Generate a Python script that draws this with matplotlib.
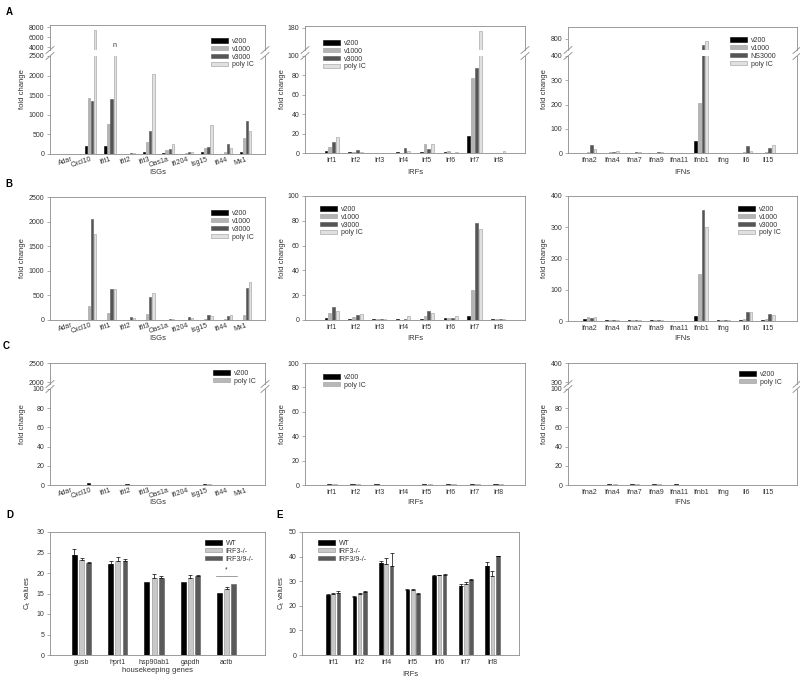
import numpy as np
import matplotlib.pyplot as plt
from matplotlib.lines import Line2D
from matplotlib.container import BarContainer

plt.rcParams['font.family'] = ['Liberation Sans', 'DejaVu Sans']
plt.rcParams['font.size'] = 5

W, H = 800, 684

isgs = ['Adar', 'Cxcl10', 'Ifit1', 'Ifit2', 'Ifit3', 'Oas1a', 'Ifi204', 'Isg15', 'Ifi44', 'Mx1']
irfs = ['Irf1', 'Irf2', 'Irf3', 'Irf4', 'Irf5', 'Irf6', 'Irf7', 'Irf8']
ifns = ['Ifna2', 'Ifna4', 'Ifna7', 'Ifna9', 'Ifna11', 'Ifnb1', 'Ifng', 'Il6', 'Il15']

# panel A
a_isg_v200 = [2, 200, 200, 5, 40, 20, 10, 50, 10, 60]
a_isg_v1000 = [5, 1420, 760, 10, 300, 110, 30, 160, 40, 410]
a_isg_v3000 = [8, 1360, 1400, 25, 580, 120, 60, 170, 260, 850]
a_isg_polyic = [3, 7500, 2600, 20, 2050, 250, 60, 730, 160, 590]

a_irf_v200 = [2, 1.5, 0.5, 1, 1.5, 1.5, 17.5, 0.5]
a_irf_v1000 = [6, 1.5, 0.5, 0.5, 9, 2, 77, 0.5]
a_irf_v3000 = [11, 3.5, 0.5, 5, 4, 0.5, 88, 0.5]
a_irf_polyic = [17, 1.5, 0.5, 2.5, 9, 1.5, 170, 2]

a_ifn_v200 = [2, 2, 2, 2, 1, 48, 1, 2, 1]
a_ifn_v1000 = [3, 3, 2, 2, 1, 205, 1, 5, 5]
a_ifn_ns3000 = [33, 5, 4, 3, 2, 690, 1, 28, 22]
a_ifn_polyic = [18, 10, 6, 3, 2, 760, 2, 10, 35]

# panel B
b_isg_v200 = [1, 5, 10, 3, 10, 2, 3, 5, 3, 10]
b_isg_v1000 = [2, 290, 150, 10, 130, 5, 10, 20, 20, 100]
b_isg_v3000 = [3, 2050, 640, 60, 470, 20, 60, 100, 80, 660]
b_isg_polyic = [5, 1750, 630, 50, 540, 15, 50, 80, 100, 770]

b_irf_v200 = [2, 1, 0.5, 1, 1, 2, 3.5, 0.5]
b_irf_v1000 = [5.5, 2.5, 0.5, 0.3, 3, 1.5, 24, 0.5]
b_irf_v3000 = [10.5, 4, 0.5, 0.5, 7, 2, 78, 1]
b_irf_polyic = [7.5, 4.5, 0.5, 3.5, 6, 3.5, 73, 0.8]

b_ifn_v200 = [5, 2, 2, 2, 1, 17, 2, 2, 2]
b_ifn_v1000 = [12, 3, 2, 2, 1, 150, 2, 5, 5]
b_ifn_v3000 = [10, 3, 4, 3, 1, 355, 2, 28, 24]
b_ifn_polyic = [13, 3, 3, 3, 1, 302, 2, 30, 20]

# panel C
c_isg_v200 = [0.5, 2.5, 0.1, 0.6, 0.4, 0.1, 0.4, 1.5, 0.1, 0.3]
c_isg_polyic = [0.4, 0.5, 0.1, 0.3, 0.3, 0.1, 0.3, 0.8, 0.1, 0.3]
c_irf_v200 = [0.8, 1.2, 0.8, 0.4, 1.0, 1.0, 1.0, 0.8]
c_irf_polyic = [0.6, 0.9, 0.4, 0.4, 0.8, 0.5, 0.5, 1.2]
c_ifn_v200 = [0.3, 0.8, 0.8, 1.2, 0.8, 0.2, 0.1, 0.3, 0.3]
c_ifn_polyic = [0.5, 0.8, 0.6, 0.6, 0.3, 0.3, 0.1, 0.5, 0.5]

# panel D
hk_genes = ['gusb', 'hprt1', 'hsp90ab1', 'gapdh', 'actb']
d_wt = [24.5, 22.2, 17.8, 17.8, 15.1]
d_wt_err = [1.3, 0.7, 0.0, 0.0, 0.0]
d_irf3 = [23.2, 23.0, 18.9, 18.8, 16.0]
d_irf3_err = [0.4, 1.0, 0.8, 0.6, 0.7]
d_irf39 = [22.5, 22.9, 18.8, 19.2, 17.4]
d_irf39_err = [0.3, 0.5, 0.5, 0.2, 0.0]

# panel E
e_genes = ['Irf1', 'Irf2', 'Irf4', 'Irf5', 'Irf6', 'Irf7', 'Irf8']
e_wt = [24.5, 23.5, 37.2, 26.5, 32.3, 28.2, 36.3]
e_wt_err = [0.3, 0.3, 1.0, 0.2, 0.3, 0.6, 1.4]
e_irf3 = [25.0, 24.8, 36.8, 26.4, 32.4, 28.8, 32.0]
e_irf3_err = [0.4, 0.5, 2.7, 0.3, 0.2, 0.7, 2.2]
e_irf39 = [25.2, 25.7, 36.0, 24.8, 32.7, 30.5, 40.1]
e_irf39_err = [0.9, 0.5, 5.3, 0.3, 0.3, 0.5, 0.3]

c4 = ['#000000', '#b4b4b4', '#555555', '#e0e0e0']
e4 = ['#000000', '#9a9a9a', '#555555', '#9a9a9a']
c2 = ['#000000', '#b8b8b8']
e2 = ['#000000', '#999999']
c3 = ['#000000', '#c8c8c8', '#5a5a5a']
e3 = ['#000000', '#8c8c8c', '#5a5a5a']
spine_col = '#8c8c8c'
txt_col = '#333333'

fig = plt.figure(figsize=(8, 6.84), dpi=100)


def add_ax(x0, y0, x1, y1):
    return fig.add_axes([x0 / W, 1 - y1 / H, (x1 - x0) / W, (y1 - y0) / H])


def style(ax):
    for s in ax.spines.values():
        s.set_color(spine_col)
        s.set_linewidth(0.6)
    ax.tick_params(axis='y', length=2, width=0.5, color=spine_col, labelsize=5,
                   labelcolor=txt_col, pad=2)
    ax.tick_params(axis='x', length=0, labelsize=5, labelcolor=txt_col, pad=3)


def draw_bars(ax, series, colors, edges, width, pitch):
    x = np.arange(len(series[0]))
    k = len(series)
    for i, vals in enumerate(series):
        ax.bar(x + (i - (k - 1) / 2) * pitch, vals, width, color=colors[i],
               edgecolor=edges[i], linewidth=0.4)
    return x


def slash(xb, yb):
    fig.add_artist(Line2D([(xb - 4) / W, (xb + 4) / W], [1 - (yb + 3.5) / H, 1 - (yb - 3.5) / H],
                          color=spine_col, lw=0.6))


def make_panel(box, names, series, colors, edges, xlim, lim, ticks, upper=None,
               width=0.12, pitch=0.16, rot=0):
    x0, y0, x1, y1 = box
    if upper:
        up_lim, up_ticks, up_bot, low_top = upper
        ax_up = add_ax(x0, y0, x1, up_bot)
        ax = add_ax(x0, low_top, x1, y1)
        axes = [ax_up, ax]
    else:
        ax_up = None
        ax = add_ax(x0, y0, x1, y1)
        axes = [ax]
    for a in axes:
        style(a)
        draw_bars(a, series, colors, edges, width, pitch)
        a.set_xlim(*xlim)
    ax.set_ylim(*lim)
    ax.set_yticks(ticks)
    ax.set_xticks(np.arange(len(names)))
    if rot:
        ax.set_xticklabels(names, rotation=rot, ha='right', rotation_mode='anchor')
        ax.tick_params(axis='x', pad=1.5)
    else:
        ax.set_xticklabels(names)
    if ax_up is not None:
        ax_up.set_ylim(*up_lim)
        ax_up.set_yticks(up_ticks)
        ax_up.set_xticks([])
        ax_up.spines['bottom'].set_visible(False)
        ax.spines['top'].set_visible(False)
        for xb in (x0, x1):
            slash(xb, up_bot)
            slash(xb, low_top)
    return ax, ax_up


def legend(ax, labels, x, y):
    handles = [c for c in ax.containers if isinstance(c, BarContainer)]
    fig.legend(handles, labels, loc='upper left', bbox_to_anchor=(x / W, 1 - y / H),
               frameon=False, fontsize=5, handlelength=2.4, handleheight=0.55,
               labelspacing=0.12, borderpad=0, borderaxespad=0, handletextpad=0.6,
               labelcolor=txt_col)


def ftext(x, y, s, **kw):
    kw.setdefault('color', txt_col)
    fig.text(x / W, 1 - y / H, s, **kw)


lab4 = ['v200', 'v1000', 'v3000', 'poly IC']

# ---- row A
ax, up = make_panel((50, 25, 265, 154), isgs,
                    [a_isg_v200, a_isg_v1000, a_isg_v3000, a_isg_polyic], c4, e4,
                    (-1.1, 10), (0, 2500), range(0, 2501, 500),
                    upper=((3400, 8400), [4000, 6000, 8000], 50, 56), rot=18)
up.text(2 + 1.5 * 0.16, 3600, 'n', ha='center', va='bottom', fontsize=5, color=txt_col)
legend(ax, lab4, 211, 38)

ax, up = make_panel((305, 26, 525, 153), irfs,
                    [a_irf_v200, a_irf_v1000, a_irf_v3000, a_irf_polyic], c4, e4,
                    (-1.12, 8.12), (0, 100), range(0, 101, 20),
                    upper=((110, 185), [180], 50, 56))
legend(ax, lab4, 323, 40)

ax, up = make_panel((568, 27, 797, 153), ifns,
                    [a_ifn_v200, a_ifn_v1000, a_ifn_ns3000, a_ifn_polyic], c4, e4,
                    (-0.97, 9.3), (0, 400), range(0, 401, 100),
                    upper=((600, 1000), [800], 50, 56))
legend(ax, ['v200', 'v1000', 'NS3000', 'poly IC'], 730, 37)

# ---- row B
ax, _ = make_panel((50, 197, 265, 320), isgs,
                   [b_isg_v200, b_isg_v1000, b_isg_v3000, b_isg_polyic], c4, e4,
                   (-1.1, 10), (0, 2500), range(0, 2501, 500), rot=18)
legend(ax, lab4, 211, 210)

ax, _ = make_panel((305, 196, 525, 320), irfs,
                   [b_irf_v200, b_irf_v1000, b_irf_v3000, b_irf_polyic], c4, e4,
                   (-1.12, 8.12), (0, 100), range(0, 101, 20))
legend(ax, lab4, 320, 206)

ax, _ = make_panel((568, 196, 797, 321), ifns,
                   [b_ifn_v200, b_ifn_v1000, b_ifn_v3000, b_ifn_polyic], c4, e4,
                   (-0.97, 9.3), (0, 400), range(0, 401, 100))
legend(ax, lab4, 738, 206)

# ---- row C
ax, up = make_panel((50, 363, 265, 485), isgs, [c_isg_v200, c_isg_polyic], c2, e2,
                    (-1.1, 10), (0, 100), range(0, 101, 20),
                    upper=((1950, 2500), [2000, 2500], 384, 389),
                    width=0.18, pitch=0.24, rot=18)
legend(ax, ['v200', 'poly IC'], 213, 370)

ax, _ = make_panel((305, 363, 525, 485), irfs, [c_irf_v200, c_irf_polyic], c2, e2,
                   (-1.12, 8.12), (0, 100), range(0, 101, 20), width=0.18, pitch=0.24)
legend(ax, ['v200', 'poly IC'], 323, 374)

ax, up = make_panel((568, 363, 797, 485), ifns, [c_ifn_v200, c_ifn_polyic], c2, e2,
                    (-0.97, 9.3), (0, 100), range(0, 101, 20),
                    upper=((290, 400), [300, 400], 384, 389),
                    width=0.18, pitch=0.24)
legend(ax, ['v200', 'poly IC'], 739, 371)

# axis labels rows A-C
for (xl, xr, yl_x), lab in zip([(50, 265, 23), (305, 525, 282), (568, 797, 545)],
                               ['ISGs', 'IRFs', 'IFNs']):
    for ytop, ybot, ylab in [(25, 154, 172), (197, 320, 338), (363, 485, 503)]:
        ftext((xl + xr) / 2, ylab, lab, ha='center', va='center', fontsize=5.5)
        ftext(yl_x, (ytop + ybot) / 2, 'fold change', ha='center', va='center',
              rotation=90, fontsize=5.5)

# ---- rows D/E
lab3 = ['WT', 'IRF3-/-', 'IRF3/9-/-']


def ct_panel(box, names, vals, errs, xlim, lim, ticks):
    x0, y0, x1, y1 = box
    ax = add_ax(x0, y0, x1, y1)
    style(ax)
    pitch, width = 0.2, 0.135
    x = np.arange(len(names))
    for i in range(3):
        xs = x + (i - 1) * pitch
        ax.bar(xs, vals[i], width, color=c3[i], edgecolor=e3[i], linewidth=0.4)
        err = np.array(errs[i])
        m = err > 0
        ax.errorbar(xs[m], np.array(vals[i])[m], yerr=[np.zeros(m.sum()), err[m]],
                    fmt='none', ecolor='black', elinewidth=0.5, capsize=1.5, capthick=0.5)
    ax.set_xlim(*xlim)
    ax.set_ylim(*lim)
    ax.set_yticks(ticks)
    ax.set_xticks(x)
    ax.set_xticklabels(names)
    return ax


ax = ct_panel((50, 532, 265, 655), hk_genes, [d_wt, d_irf3, d_irf39],
              [d_wt_err, d_irf3_err, d_irf39_err], (-0.87, 5.06), (0, 30), range(0, 31, 5))
ia = hk_genes.index('actb')
ax.plot([ia - 0.3, ia + 0.3], [19.3, 19.3], color='#777777', lw=0.5)
ax.text(ia, 19.8, '*', ha='center', va='bottom', fontsize=5, color=txt_col)
legend(ax, lab3, 205, 540)
ftext(157, 671, 'housekeeping genes', ha='center', va='center', fontsize=5.5)
ftext(28, 593, r'C$_\mathrm{t}$ values', ha='center', va='center', rotation=90, fontsize=5.5)

ax = ct_panel((302, 532, 519, 655), e_genes, [e_wt, e_irf3, e_irf39],
              [e_wt_err, e_irf3_err, e_irf39_err], (-1.17, 7.0), (0, 50), range(0, 51, 10))
legend(ax, lab3, 318, 540)
ftext(410, 674, 'IRFs', ha='center', va='center', fontsize=5.5)
ftext(282, 593, r'C$_\mathrm{t}$ values', ha='center', va='center', rotation=90, fontsize=5.5)

# panel letters
for s, px, py in [('A', 9, 12), ('B', 9, 184), ('C', 6, 346), ('D', 10, 515), ('E', 280, 515)]:
    ftext(px, py, s, ha='center', va='center', fontsize=7, weight='bold', color='black')

fig.savefig('out.png', dpi=100)
